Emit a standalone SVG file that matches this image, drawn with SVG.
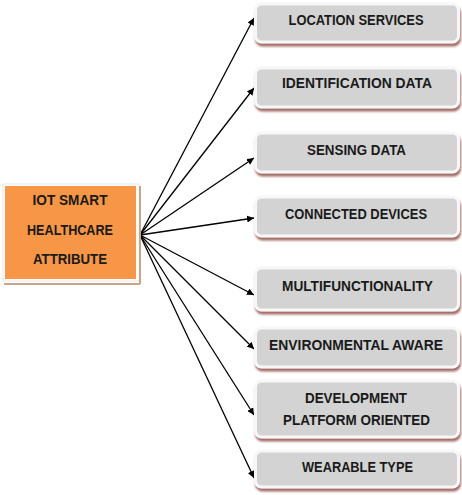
<svg xmlns="http://www.w3.org/2000/svg" width="462" height="495" viewBox="0 0 462 495">
<defs>
<marker id="ah" viewBox="0 0 10 10" refX="10" refY="5" markerWidth="7" markerHeight="7" markerUnits="userSpaceOnUse" orient="auto">
<path d="M0,0 L10,5 L0,10 z" fill="#000"/>
</marker>
<filter id="sh" x="-10%" y="-20%" width="120%" height="150%">
<feGaussianBlur in="SourceAlpha" stdDeviation="0.8"/>
<feOffset dx="1" dy="2.5" result="o"/>
<feFlood flood-color="#9a5a55" flood-opacity="0.9"/>
<feComposite in2="o" operator="in"/>
<feMerge><feMergeNode/><feMergeNode in="SourceGraphic"/></feMerge>
</filter>
</defs>
<style>
.box{fill:#d3d3d3;stroke:#f7f7f7;stroke-width:3;filter:url(#sh)}
.t{font-family:"Liberation Sans",Arial,sans-serif;font-weight:bold;font-size:14px;fill:#1a1a1a;text-anchor:middle}
.c{stroke:#000;stroke-width:1.3;fill:none;marker-end:url(#ah)}
</style>
<rect width="462" height="495" fill="#fff"/>
<g id="connectors">
<line class="c" x1="140" y1="235" x2="254" y2="18"/>
<line class="c" x1="140" y1="235" x2="254" y2="88"/>
<line class="c" x1="140" y1="235" x2="254" y2="158"/>
<line class="c" x1="140" y1="235" x2="254" y2="218"/>
<line class="c" x1="140" y1="235" x2="254" y2="295"/>
<line class="c" x1="140" y1="235" x2="254" y2="349"/>
<line class="c" x1="140" y1="235" x2="254" y2="415"/>
<line class="c" x1="140" y1="235" x2="254" y2="478"/>
</g>
<g id="root">
<rect x="3" y="184" width="136" height="97" fill="#fff" stroke="#e8e8e8" stroke-width="1"/>
<rect x="4" y="283" width="136" height="2" fill="#c9a58a"/>
<rect x="139" y="186" width="2" height="98" fill="#c9a58a"/>
<rect x="5" y="186" width="131" height="93" fill="#f79646"/>
<text class="t" x="70" y="205" textLength="75" lengthAdjust="spacingAndGlyphs">IOT SMART</text>
<text class="t" x="70" y="235" textLength="86" lengthAdjust="spacingAndGlyphs">HEALTHCARE</text>
<text class="t" x="70" y="264" textLength="74" lengthAdjust="spacingAndGlyphs">ATTRIBUTE</text>
</g>
<g id="n1"><rect class="box" x="255.5" y="4" width="203" height="38" rx="6"/><text class="t" x="356" y="25" textLength="135" lengthAdjust="spacingAndGlyphs">LOCATION SERVICES</text></g>
<g id="n2"><rect class="box" x="255.5" y="68" width="203" height="39" rx="6"/><text class="t" x="357" y="88" textLength="150" lengthAdjust="spacingAndGlyphs">IDENTIFICATION DATA</text></g>
<g id="n3"><rect class="box" x="255.5" y="133" width="203" height="39" rx="6"/><text class="t" x="356.5" y="155" textLength="99" lengthAdjust="spacingAndGlyphs">SENSING DATA</text></g>
<g id="n4"><rect class="box" x="255.5" y="197" width="203" height="39" rx="6"/><text class="t" x="356" y="219" textLength="142" lengthAdjust="spacingAndGlyphs">CONNECTED DEVICES</text></g>
<g id="n5"><rect class="box" x="255.5" y="268" width="203" height="42" rx="6"/><text class="t" x="357.5" y="291" textLength="151" lengthAdjust="spacingAndGlyphs">MULTIFUNCTIONALITY</text></g>
<g id="n6"><rect class="box" x="255.5" y="328" width="203" height="39" rx="6"/><text class="t" x="356" y="350" textLength="174" lengthAdjust="spacingAndGlyphs">ENVIRONMENTAL AWARE</text></g>
<g id="n7"><rect class="box" x="255.5" y="381" width="203" height="56" rx="6"/><text class="t" x="356" y="403" textLength="102" lengthAdjust="spacingAndGlyphs">DEVELOPMENT</text><text class="t" x="356.5" y="425" textLength="147" lengthAdjust="spacingAndGlyphs">PLATFORM ORIENTED</text></g>
<g id="n8"><rect class="box" x="255.5" y="451" width="203" height="36" rx="6"/><text class="t" x="357.5" y="472" textLength="111" lengthAdjust="spacingAndGlyphs">WEARABLE TYPE</text></g>
</svg>
